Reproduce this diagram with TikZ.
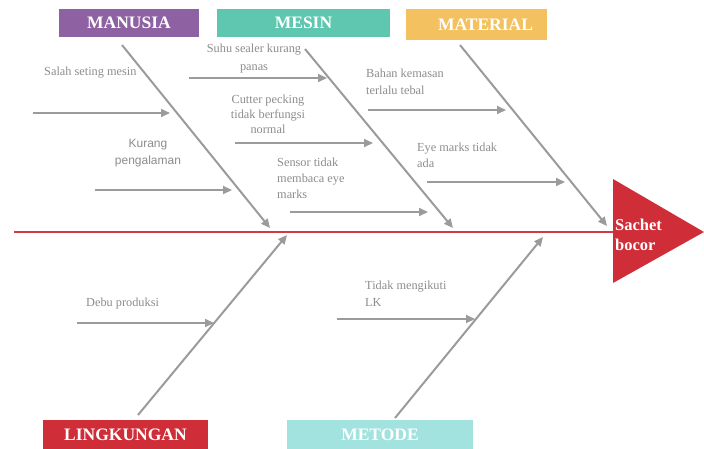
\documentclass[tikz,border=0pt]{standalone}
\usepackage{fontspec}
\setmainfont{Liberation Serif}
\newfontfamily\causesans{Liberation Sans}
\usepackage{tikz}
\usetikzlibrary{positioning,calc,arrows.meta}
\definecolor{purpman}{HTML}{8E62A2}
\definecolor{tealmes}{HTML}{5FC6B0}
\definecolor{yelmat}{HTML}{F4C160}
\definecolor{redlin}{HTML}{CF2E38}
\definecolor{aquamet}{HTML}{A2E2DF}
\definecolor{spinered}{HTML}{D03A40}
\definecolor{bonegray}{HTML}{9B9B9B}
\definecolor{textgray}{HTML}{8C8C8C}
\tikzstyle{cat}=[inner sep=0pt, text=white, font=\fontsize{17.5}{20}\selectfont\bfseries]
\tikzstyle{bone}=[draw=bonegray, line width=2pt, -{Triangle[length=9pt,width=8pt]}]
\tikzstyle{sub}=[draw=bonegray, line width=2pt, -{Triangle[length=9pt,width=8pt]}]
\tikzstyle{cause}=[inner sep=0pt, text=textgray, font=\fontsize{12.3}{16}\selectfont]

\begin{document}
\begin{tikzpicture}[x=1pt,y=-1pt]
\useasboundingbox (0,0) rectangle (704,448);
% categories
\node[cat, fill=purpman, minimum width=140pt, minimum height=28pt] (man) at (129,23) {MANUSIA};
\node[cat, fill=tealmes, minimum width=173pt, minimum height=28pt] (mes) at (303.5,23) {MESIN};
\node[cat, fill=yelmat, minimum width=141pt, minimum height=31pt] (mat) at (476.5,24.5) {\hspace*{18pt}MATERIAL};
\node[cat, fill=redlin, minimum width=165pt, minimum height=30pt] (lin) at (125.5,435) {LINGKUNGAN};
\node[cat, fill=aquamet, minimum width=186pt, minimum height=30pt] (met) at (380,435) {METODE};
% effect
\coordinate (h1) at (613,179);
\coordinate (h2) at (704,232);
\coordinate (h3) at (613,283);
\fill[redlin] (h1) -- (h2) -- (h3) -- cycle;
\node[cat, anchor=west, align=left, font=\fontsize{16.5}{20}\selectfont\bfseries] (eff) at (615,235) {Sachet\\bocor};
% spine
\coordinate (tail) at (14,232);
\coordinate (head) at (613,232);
\draw[spinered, line width=2.5pt] (tail) -- (head);
% bones
\coordinate (man1) at (122,45);
\coordinate (man2) at (270,228);
\coordinate (mes1) at (305,49);
\coordinate (mes2) at (453,228);
\coordinate (mat1) at (460,45);
\coordinate (mat2) at (607,226);
\coordinate (lin1) at (138,415);
\coordinate (lin2) at (287,235);
\coordinate (met1) at (395,418);
\coordinate (met2) at (543,237);
\draw[bone] (man1) -- (man2);
\draw[bone] (mes1) -- (mes2);
\draw[bone] (mat1) -- (mat2);
\draw[bone] (lin1) -- (lin2);
\draw[bone] (met1) -- (met2);
% causes
\node[cause, anchor=west] (c1) at (44,73) {Salah seting mesin};
\node[cause, align=center, font=\causesans\fontsize{12}{17}\selectfont] (c2) at (148,153.5) {Kurang\\pengalaman};
\node[cause, align=center, font=\fontsize{12.3}{18}\selectfont] (c3) at (254,59) {Suhu sealer kurang\\panas};
\node[cause, align=center, font=\fontsize{12.3}{15}\selectfont] (c4) at (268,114) {Cutter pecking\\tidak berfungsi\\normal};
\node[cause, anchor=west, align=left] (c5) at (277,178) {Sensor tidak\\membaca eye\\marks};
\node[cause, anchor=west, align=left, font=\fontsize{12.3}{17}\selectfont] (c6) at (366,81.5) {Bahan kemasan\\terlalu tebal};
\node[cause, anchor=west, align=left] (c7) at (417,155) {Eye marks tidak\\ada};
\node[cause, anchor=west] (c8) at (86,304) {Debu produksi};
\node[cause, anchor=west, align=left, font=\fontsize{12.3}{17}\selectfont] (c9) at (365,293.5) {Tidak mengikuti\\LK};
% cause arrows
\coordinate (a1) at (33,113);   \coordinate (b1) at (170,113);
\coordinate (a2) at (95,190);   \coordinate (b2) at (232,190);
\coordinate (a3) at (189,78);   \coordinate (b3) at (327,78);
\coordinate (a4) at (235,143);  \coordinate (b4) at (373,143);
\coordinate (a5) at (290,212);  \coordinate (b5) at (428,212);
\coordinate (a6) at (368,110);  \coordinate (b6) at (506,110);
\coordinate (a7) at (427,182);  \coordinate (b7) at (565,182);
\coordinate (a8) at (77,323);   \coordinate (b8) at (214,323);
\coordinate (a9) at (337,319);  \coordinate (b9) at (475,319);
\foreach \i in {1,...,9}
  \draw[sub] (a\i) -- (b\i);
\end{tikzpicture}
\end{document}
